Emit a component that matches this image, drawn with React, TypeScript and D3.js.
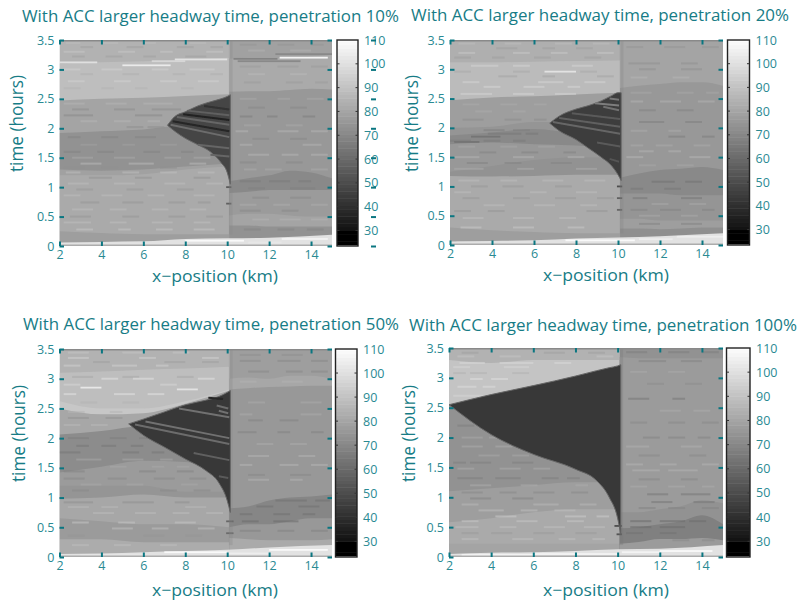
import React, { useEffect, useRef } from 'react';
import * as d3 from 'd3';

// station positions (km) the band edges are read at, left and right of the x=10 bottleneck
const leftStations = [2, 4, 6, 8, 10.1];
const rightStations = [10.1, 11, 12, 13, 14, 15];
const bottomStations = [2, 4, 6, 8, 10, 12, 15];
const xTicks = [2, 4, 6, 8, 10, 12, 14];
const yTicks = [0, 0.5, 1, 1.5, 2, 2.5, 3, 3.5];
const barTicks = [30, 40, 50, 60, 70, 80, 90, 100, 110];
const titles = ['With ACC larger headway time, penetration 10%', 'With ACC larger headway time, penetration 20%', 'With ACC larger headway time, penetration 50%', 'With ACC larger headway time, penetration 100%'];

// bands: [speed, top edge in hours at every station], painted from the top down
const left10 = [[84, [3.5, 3.5, 3.5, 3.5, 3.5]], [88, [3.1, 3.12, 3.14, 3.17, 3.2]], [79, [2.47, 2.5, 2.52, 2.55, 2.58]], [73, [1.92, 1.95, 1.98, 2.05, 2.05]], [78, [1.3, 1.28, 1.3, 1.35, 1.4]], [81, [1.2, 1.2, 1.22, 1.3, 1.35]], [77, [0.25, 0.22, 0.2, 0.2, 0.2]]];
const right10 = [[78, [3.5, 3.5, 3.5, 3.5, 3.5, 3.5]], [81, [3.18, 3.2, 3.2, 3.2, 3.22, 3.25]], [75, [2.62, 2.63, 2.63, 2.65, 2.67, 2.66]], [70, [1.1, 1.15, 1.2, 1.28, 1.25, 1.15]], [76, [0.9, 0.92, 0.95, 0.95, 0.95, 0.95]], [79, [0.52, 0.55, 0.55, 0.52, 0.5, 0.5]], [73, [0.35, 0.35, 0.33, 0.33, 0.33, 0.33]]];
const left20 = [[83, [3.5, 3.5, 3.5, 3.5, 3.5]], [87, [3.12, 3.12, 3.13, 3.14, 3.15]], [77, [2.47, 2.52, 2.54, 2.57, 2.6]], [74, [2.0, 2.02, 2.1, 2.1, 2.1]], [70, [1.87, 1.92, 1.98, 1.9, 1.8]], [75, [1.72, 1.75, 1.72, 1.7, 1.65]], [73, [1.25, 1.35, 1.45, 1.5, 1.5]], [81, [1.18, 1.17, 1.18, 1.2, 1.2]], [77, [0.3, 0.25, 0.22, 0.2, 0.2]]];
const right20 = [[79, [3.5, 3.5, 3.5, 3.5, 3.5, 3.5]], [75, [2.68, 2.72, 2.75, 2.78, 2.78, 2.72]], [70, [1.15, 1.22, 1.28, 1.3, 1.33, 1.28]], [74, [0.88, 0.88, 0.88, 0.85, 0.85, 0.85]], [77, [0.45, 0.45, 0.42, 0.42, 0.42, 0.42]], [72, [0.28, 0.28, 0.27, 0.28, 0.3, 0.3]]];
const left50 = [[84, [3.5, 3.5, 3.5, 3.5, 3.5]], [88, [3.1, 3.12, 3.15, 3.17, 3.2]], [91, [2.62, 2.5, 2.5, 2.62, 2.82]], [80, [2.5, 2.4, 2.42, 2.58, 2.8]], [71, [2.06, 2.12, 2.2, 2.2, 2.2]], [76, [1.42, 1.52, 1.62, 1.6, 1.5]], [74, [1.2, 1.2, 1.2, 1.1, 1.1]], [80, [0.98, 1.0, 1.05, 1.0, 1.0]], [76, [0.65, 0.6, 0.55, 0.55, 0.5]], [82, [0.3, 0.3, 0.25, 0.25, 0.25]]];
const right50 = [[77, [3.5, 3.5, 3.5, 3.5, 3.5, 3.5]], [80, [3.0, 3.02, 3.0, 3.05, 3.05, 3.0]], [75, [2.82, 2.84, 2.86, 2.87, 2.88, 2.88]], [69, [0.82, 0.85, 0.95, 1.0, 1.02, 1.05]], [75, [0.5, 0.55, 0.55, 0.6, 0.65, 0.65]], [81, [0.32, 0.3, 0.28, 0.28, 0.28, 0.3]]];
const left100 = [[84, [3.5, 3.5, 3.5, 3.5, 3.5]], [90, [3.3, 3.25, 3.3, 3.3, 3.3]], [73, [2.55, 2.55, 2.6, 2.6, 2.6]], [77, [1.1, 1.15, 1.2, 1.25, 1.25]], [81, [0.58, 0.65, 0.75, 0.8, 0.8]], [79, [0.22, 0.22, 0.22, 0.22, 0.22]]];
const right100 = [[73, [3.5, 3.5, 3.5, 3.5, 3.5, 3.5]], [76, [3.35, 3.33, 3.33, 3.33, 3.33, 3.33]], [73, [0.75, 0.75, 0.8, 0.85, 0.95, 0.9]], [67, [0.48, 0.5, 0.55, 0.6, 0.7, 0.55]], [76, [0.22, 0.25, 0.3, 0.3, 0.32, 0.28]]];

// white strip along t=0
const bottom10 = [0.06, 0.07, 0.08, 0.12, 0.13, 0.14, 0.19];
const bottom20 = [0.06, 0.07, 0.08, 0.11, 0.13, 0.15, 0.2];
const bottom50 = [0.05, 0.06, 0.08, 0.1, 0.12, 0.16, 0.2];
const bottom100 = [0.05, 0.07, 0.08, 0.1, 0.13, 0.14, 0.2];

// congestion wedge: x stations, upper edge, lower edge in hours
const wedgeX10 = [7.15, 7.5, 8, 8.6, 9.2, 9.7, 10, 10.15];
const wedgeTop10 = [2.05, 2.2, 2.28, 2.38, 2.45, 2.5, 2.54, 2.57];
const wedgeLow10 = [2.05, 1.95, 1.83, 1.72, 1.6, 1.42, 1.25, 1.05];
const wedgeX20 = [6.75, 7.2, 8, 8.6, 9.2, 9.7, 10, 10.15];
const wedgeTop20 = [2.08, 2.2, 2.32, 2.38, 2.46, 2.55, 2.6, 2.6];
const wedgeLow20 = [2.08, 1.95, 1.8, 1.65, 1.5, 1.35, 1.2, 1.1];
const wedgeX50 = [5.3, 6, 7, 8, 9, 9.6, 10, 10.15];
const wedgeTop50 = [2.24, 2.32, 2.44, 2.56, 2.64, 2.7, 2.77, 2.8];
const wedgeLow50 = [2.24, 2.05, 1.85, 1.65, 1.45, 1.25, 0.95, 0.75];
const wedgeX100 = [2, 4, 6, 8, 9, 9.6, 10, 10.15];
const wedgeTop100 = [2.55, 2.72, 2.87, 3.03, 3.12, 3.17, 3.2, 3.22];
const wedgeLow100 = [2.55, 2.05, 1.72, 1.47, 1.28, 1.0, 0.65, 0.38];
const wedgeSpeed = [47, 44, 42, 43];

// stripes inside the wedges: [x0, t0, x1, t1, speed]
const stripes10 = [[7.3, 2.06, 10.1, 1.85, 60], [7.6, 2.19, 10.1, 2.06, 58], [8.1, 2.3, 10.1, 2.22, 56], [7.4, 2.12, 10.1, 1.95, 36], [7.9, 2.24, 10.1, 2.14, 35], [8.6, 1.72, 10.1, 1.66, 58], [8.9, 2.38, 10.1, 2.32, 40], [9.2, 1.55, 10.1, 1.52, 58]];
const stripes20 = [[6.9, 2.1, 10.1, 1.9, 58], [7.2, 2.17, 10.1, 2.02, 56], [7.8, 2.25, 10.1, 2.15, 54], [9, 1.75, 10.1, 1.68, 54], [8.9, 2.42, 10.05, 2.38, 66], [9.3, 2.36, 10.05, 2.3, 62], [9.6, 1.47, 10.05, 1.42, 52], [9.6, 2.5, 10.05, 2.48, 64]];
const stripes50 = [[5.6, 2.23, 10.1, 1.9, 60], [6.1, 2.28, 10.1, 2.0, 62], [7.7, 2.5, 10.1, 2.35, 62], [8.4, 1.75, 10.1, 1.63, 56], [9.5, 2.55, 10.05, 2.5, 60], [9.6, 2.46, 10.05, 2.42, 62], [9.6, 1.36, 10.05, 1.33, 54], [9.1, 2.68, 9.8, 2.66, 36]];
const stripes100 = [];

// stronger marks: [x0, x1, t, speed]
const streaks10 = [[2, 3.8, 3.12, 99], [5, 7.3, 3.07, 103], [6.4, 8, 3.14, 96], [7.5, 10, 3.17, 100], [10.3, 12.4, 3.18, 68], [12.5, 14.8, 3.2, 106], [10.5, 13.5, 3.14, 70], [12.3, 15, 3.26, 70], [9.95, 10.2, 1.0, 54], [9.95, 10.2, 0.72, 56], [8, 10.8, 0.09, 108], [11, 12.6, 0.06, 102], [12.6, 14.8, 0.12, 106]];
const streaks20 = [[6.5, 8, 2.96, 100], [9.95, 10.2, 1.0, 50], [9.95, 10.2, 0.8, 56], [9.95, 10.2, 0.6, 58], [7.5, 10.8, 0.08, 108], [11, 12.6, 0.1, 104], [12.8, 15, 0.14, 104], [2.3, 4.8, 0.04, 100], [3, 4.4, 1.85, 63], [2.2, 3.4, 1.76, 63]];
const streaks50 = [[7.6, 8.6, 2.82, 100], [3, 4, 2.85, 102], [9.95, 10.3, 0.6, 58], [9.95, 10.3, 0.4, 60], [7, 10, 0.08, 108], [10, 12, 0.06, 104], [12, 14.8, 0.12, 108], [3, 6, 0.03, 102]];
const streaks100 = [[9.85, 10.2, 0.52, 50], [9.95, 10.2, 0.38, 52], [2.6, 6, 0.03, 108], [6, 10, 0.05, 106], [10.2, 12, 0.08, 106], [12, 14.5, 0.1, 108]];

// mottling rows: [t, speed, [x0, x1, x0, x1, ...]]
const mottle10 = [
  [3.45, 88, [2.3, 3, 4, 4.8, 6, 6.6, 8.2, 9]], [3.38, 78, [3, 3.6, 5.2, 6, 7.6, 8.4, 9.2, 9.8]], [3.3, 91, [2.2, 3.2, 4.8, 5.6, 6.8, 7.4, 9, 9.8]], [3.22, 78, [2.6, 3.2, 4.2, 5, 6, 6.6, 8, 9]],
  [3.0, 94, [2.2, 3, 4, 5, 6.4, 7.2, 8.2, 9.4]], [2.92, 83, [3, 3.6, 5, 5.8, 7.4, 8, 9.2, 9.8]], [2.8, 94, [2.4, 3.2, 4.6, 5.4, 6.8, 7.6, 8.6, 9.6]], [2.68, 84, [2.2, 3, 4, 4.6, 5.6, 6.2, 7.8, 8.4]],
  [2.42, 85, [2.2, 3.2, 4.2, 5.2, 6, 7.4]], [2.32, 71, [2.6, 3.4, 4.6, 5.6, 6.4, 7.8]], [2.22, 70, [2.2, 3.6, 5.6, 6.9]], [2.12, 85, [3, 3.8, 4.6, 5.4, 6.2, 6.8]], [2.02, 72, [5.2, 6, 6.2, 7]],
  [1.85, 68, [2.4, 3, 4, 4.8, 5.6, 6.6]], [1.72, 78, [3, 3.8, 5, 5.6, 6.8, 7.6]], [1.6, 68, [2.2, 3, 3.8, 4.6, 6, 6.8, 7.8, 8.4]], [1.5, 80, [2.6, 3.6, 4.6, 5.6, 7, 7.8, 8.4, 9.2]], [1.4, 86, [3, 4, 5.3, 6.5, 8.2, 9]],
  [1.33, 72, [2.2, 3.2, 4, 4.8, 6.8, 7.6]], [1.25, 88, [2.3, 3, 5, 5.8, 6.8, 7.6, 8.6, 9.4]], [1.16, 73, [3.4, 4.5, 5.6, 6.4, 8.4, 9.2]], [1.06, 87, [2.4, 3.4, 4.6, 5.6, 7, 8, 9, 9.8]], [0.96, 75, [2.8, 3.6, 5.2, 6, 7.6, 8.4]],
  [0.86, 87, [2.2, 3, 4, 5, 6.2, 7, 8.4, 9.4]], [0.74, 74, [3, 3.9, 5, 6, 7.2, 8, 8.6, 9.2]], [0.62, 87, [2.6, 3.6, 4.4, 5.2, 6.4, 7.2, 8.2, 9]], [0.5, 74, [2.5, 3.5, 5, 5.8, 7.2, 8, 9, 9.8]], [0.4, 88, [2.2, 3.5, 4.4, 5.2, 6.4, 7.4, 8.4, 9.2]], [0.28, 90, [2.8, 3.6, 4.8, 5.4, 6.6, 7.4, 8.4, 9.4]],
  [3.42, 74, [10.6, 11.4, 12.4, 13.2, 14, 14.6]], [3.32, 84, [11, 11.8, 13, 14]], [3.05, 76, [10.6, 11.6, 12.4, 13.4, 14, 14.8]], [2.92, 86, [11, 11.8, 13, 13.8]], [2.78, 76, [10.8, 11.6, 12.8, 13.6, 14.2, 14.8]],
  [2.5, 81, [10.6, 11.4, 12.4, 13, 13.8, 14.6]], [2.35, 70, [11, 11.8, 13, 13.8]], [2.2, 66, [11.9, 12.4, 10.6, 11.2, 13.6, 14.2]], [2.05, 81, [10.8, 11.6, 12.8, 13.6]], [1.95, 85, [12.4, 13.4, 10.4, 11, 14, 14.8]], [1.82, 70, [11.2, 12, 13, 13.8]],
  [1.72, 84, [10.6, 11.2, 13.6, 14.5]], [1.55, 85, [11, 12, 12.6, 13.4, 14, 14.8]], [1.42, 70, [10.6, 11.4, 12.8, 13.6]], [1.3, 82, [10.8, 11.4, 11.8, 12.6, 14, 14.8]], [1.1, 65, [10.6, 11.6, 12, 13, 13.4, 14]], [0.98, 67, [11, 11.8, 13, 14.2]],
  [0.82, 70, [11.2, 12, 13, 14]], [0.7, 82, [10.6, 11.4, 12.2, 13, 14, 14.8]], [0.6, 70, [10.6, 11.6, 12.6, 13.4]], [0.45, 84, [11.2, 12, 12.5, 13.5, 14, 14.8]], [0.28, 68, [10.8, 11.6, 12.4, 13.2, 13.8, 14.6]],
];
const mottle20 = [
  [3.44, 88, [2.4, 3.2, 4.6, 5.4, 7, 7.8, 8.8, 9.6]], [3.36, 77, [4.2, 5.2, 6.4, 7, 8, 8.8]], [3.28, 91, [2.4, 3.2, 5, 5.8, 6.8, 7.6, 9, 9.8]], [3.2, 77, [2.2, 3, 4, 4.6, 6, 6.8, 8.4, 9.2]],
  [3.06, 95, [3, 4.3, 5, 5.8, 7.8, 8.8]], [2.96, 81, [2.2, 3, 5, 5.8, 8.2, 9]], [2.88, 79, [4.3, 5.2, 6.4, 7, 9, 9.8]], [2.78, 95, [2.6, 3.4, 6.2, 7.4, 8.4, 9.4]], [2.7, 96, [3.6, 4.4, 5.5, 6.5, 7.6, 8.2]], [2.58, 95, [2.5, 4, 5, 6, 7, 8]],
  [2.4, 82, [2.6, 3.4, 4.4, 5.2, 6, 6.6]], [2.28, 82, [3.2, 4, 5, 5.6]], [2.14, 71, [2.6, 3.6, 4.6, 5.4, 6, 6.6]], [1.96, 66, [3.6, 4.6, 5, 5.8]], [1.9, 64, [3.8, 5.4, 5.6, 6.2]], [1.78, 65, [2, 3, 3.6, 4.4, 5, 5.6]],
  [1.68, 80, [2.4, 3.2, 4.4, 5.2, 6.2, 7]], [1.58, 68, [3.4, 4.2, 5.4, 6.2, 7.4, 8]], [1.5, 84, [2.2, 3.4, 5, 6, 7.6, 8.4]], [1.4, 68, [2.8, 3.8, 4.6, 5.4, 6.8, 7.8]], [1.3, 82, [2.2, 3.6, 5.2, 6, 8, 9]],
  [1.1, 87, [2.4, 3.4, 4.4, 5.2, 6.4, 7.4, 8.4, 9.4]], [1.0, 75, [3, 3.8, 4.5, 5.5, 7, 7.8]], [0.9, 87, [2.2, 3, 5.8, 6.6, 8, 9]], [0.8, 75, [2.6, 3.4, 5, 5.8, 7, 8, 9, 9.8]], [0.68, 87, [3.6, 4.6, 6, 7, 8.2, 9]], [0.58, 74, [2.2, 3, 3.8, 4.6, 8.5, 9.5]], [0.46, 88, [2.6, 3.6, 5, 6, 7.2, 8]], [0.3, 91, [2.5, 3.5, 5, 6, 7.6, 8.4]],
  [3.38, 74, [10.4, 11.2, 12.2, 13.2, 14, 14.8]], [3.1, 72, [10.5, 12, 13, 13.8]], [3, 72, [11, 11.8, 13, 14]], [2.86, 85, [10.6, 11.4, 12.6, 13.4]], [2.6, 80, [10.6, 11.6, 12.8, 13.6, 14.2, 14.8]],
  [2.45, 84, [12, 13, 10.6, 11.2, 13.8, 14.6]], [2.3, 68, [11, 11.8, 12.8, 13.6]], [2.1, 67, [11, 12.2, 13.2, 14]], [1.95, 82, [10.6, 11.4, 12.4, 13]], [1.85, 66, [12.4, 13.2, 14, 14.6]], [1.7, 82, [10.6, 11.2, 11.8, 12.6, 13.6, 14.4]],
  [1.6, 84, [11, 11.7, 12.4, 13]], [1.5, 85, [13.4, 14.4, 10.4, 11.2]], [1.36, 80, [11, 11.8, 12.8, 13.6]], [1.08, 62, [11.6, 12.7, 13.2, 14]], [0.96, 64, [10.6, 11.2, 12.2, 13]], [0.8, 64, [10.7, 11.4, 13, 14]],
  [0.7, 80, [11.6, 12.4, 13.4, 14.2]], [0.6, 68, [10.6, 11.4, 12, 13, 14, 14.6]], [0.5, 81, [11, 12, 13, 13.8]], [0.36, 68, [11, 12, 13, 14]],
];
const mottle50 = [
  [3.44, 90, [2.4, 3.4, 5, 6, 7.4, 8.2]], [3.35, 94, [2.4, 3.4, 5.8, 6.6, 8.8, 9.6]], [3.28, 78, [3.6, 4.4, 7, 8, 8.8, 9.6]], [3.22, 94, [2.2, 3, 4.5, 5.7, 6.6, 7.2]], [3.03, 80, [2.6, 3.6, 5, 5.8, 7.6, 8.4]],
  [3, 100, [4, 4.8, 5.5, 6.5, 8.6, 9.4]], [2.9, 96, [2.2, 3, 6.8, 7.6]], [2.74, 100, [4.6, 5.6, 2.2, 2.8, 6.2, 7]], [2.6, 84, [3, 3.8, 5, 5.8]], [2.44, 85, [2.4, 3.2, 4.4, 5]], [2.34, 73, [2.4, 3.4, 4.2, 5]], [2.22, 86, [3.5, 4.3, 2.2, 3]],
  [2, 66, [2.4, 3.4, 4.4, 5.2, 5.8, 6.2]], [1.87, 64, [4, 4.7, 5.4, 6, 2.8, 3.4]], [1.76, 64, [2, 3, 5, 5.8, 6.4, 7]], [1.64, 80, [2.8, 4, 5, 6, 6.8, 7.4]], [1.52, 80, [4.4, 5.2, 6.4, 7, 7.6, 8.2]],
  [1.44, 68, [2.2, 3.2, 5.8, 6.6, 7.6, 8.4]], [1.32, 70, [2.2, 3.2, 4.3, 5.2, 6.5, 7.5, 8.2, 9]], [1.22, 80, [3, 4, 5.2, 6, 7.8, 8.6]], [1.12, 70, [2.6, 3.4, 6.8, 7.6, 8.4, 9.2]], [0.92, 72, [2.2, 3.6, 5, 6.5, 7.5, 8.2]],
  [0.84, 86, [2.4, 3.4, 4, 4.8, 8, 9]], [0.74, 87, [3.6, 4.6, 5.6, 6.6, 7.4, 8.2, 9, 9.8]], [0.58, 90, [2.6, 3.4, 7.5, 8.5, 4.8, 5.6]], [0.48, 88, [4.5, 5.5, 6.4, 7.2, 8.6, 9.4]], [0.36, 74, [6, 7, 2.4, 3.2, 8, 8.8]], [0.2, 88, [2.6, 3.4, 4.6, 5.4, 6.8, 7.6]],
  [3.4, 72, [10.6, 11.6, 12.6, 13.6]], [3.3, 70, [10.6, 11.6, 12.4, 13.5, 14, 14.8]], [3.12, 70, [14, 14.8, 11, 12, 12.8, 13.6]], [2.95, 84, [10.6, 11.4, 12.6, 13.6]],
  [2.6, 82, [11, 11.8, 13.5, 14.5]], [2.4, 82, [13.5, 14.5, 10.6, 11.2]], [2.3, 68, [12.5, 13.4, 11, 11.7]], [2.1, 68, [10.5, 11.4, 12.4, 13, 14, 14.6]], [1.9, 82, [11.4, 12.2, 13, 13.8]], [1.7, 84, [11, 12, 13.4, 14.2]], [1.55, 85, [12.5, 13.4, 10.6, 11.2, 14, 14.8]],
  [1.38, 70, [11, 11.8, 13, 14]], [1.3, 84, [11, 12, 13, 13.6]], [0.95, 62, [12.3, 13.8, 14.2, 14.9]], [0.85, 62, [13.4, 14.4, 11.4, 12.2]], [0.72, 62, [10.6, 11.2, 12.2, 13, 13.6, 14.2]], [0.6, 60, [10.7, 11.5, 12.2, 13.4]], [0.44, 68, [10.6, 11.6, 12.4, 13.2, 14, 14.8]],
];
const mottle100 = [
  [3.42, 78, [6.5, 7.5, 2.6, 3.4, 8.6, 9.4]], [3.36, 90, [2.4, 3.2, 4.4, 5.4, 9, 9.8]], [3.25, 97, [2.5, 3.7, 4.4, 6, 7, 7.8]], [3.18, 96, [2.2, 3, 4.6, 5.8]], [3.08, 84, [3, 3.8, 5, 5.8, 2.2, 2.8]], [2.98, 99, [4, 4.8, 3, 3.6]], [2.85, 98, [2.4, 3.3, 3.6, 4.2]], [2.7, 96, [2.2, 3.6]],
  [2.2, 66, [2.4, 3.2]], [2.0, 80, [2.6, 3.6, 3.9, 4.3]], [1.85, 82, [2.6, 3.6, 4.2, 5]], [1.7, 80, [3.4, 4.4, 5, 5.8]], [1.58, 66, [3, 4, 2.2, 2.8, 5, 6]], [1.48, 82, [4.4, 5.4, 2.4, 3.2, 6, 6.8]], [1.32, 66, [2.4, 3.6, 4.2, 5.4, 6.4, 7.2, 7.6, 8.2]],
  [1.2, 82, [3, 4, 5.4, 6.2, 8, 8.6]], [1.08, 70, [2.6, 3.6, 4.4, 5.2, 6, 7, 7.8, 8.6]], [0.98, 68, [5, 6, 3, 4]], [0.88, 86, [6, 7.2, 2.6, 3.4, 8.2, 9]], [0.78, 88, [3.4, 4.6, 5.4, 6.2, 7, 8]], [0.68, 92, [7.5, 8.5, 4.2, 5.2, 9, 9.6]], [0.6, 90, [5.2, 6.2, 2.6, 3.4, 7.6, 8.4]],
  [0.5, 88, [2.3, 3.4, 4.4, 5.2, 6.5, 7.5, 8.4, 9.4]], [0.4, 76, [4, 5, 2.6, 3.4, 6, 7, 8, 9]], [0.3, 88, [2.6, 3.4, 5, 6, 7.2, 8, 8.8, 9.4]],
  [3.43, 66, [10.4, 11.4, 12.4, 13.4, 14, 14.8]], [3.28, 68, [11, 12.3, 13, 14]], [3.1, 81, [10.6, 11.4, 12.4, 13.2]], [2.9, 71, [11.4, 12.2, 13.2, 14]], [2.65, 64, [10.5, 11.5, 12.6, 13.2]], [2.45, 82, [12, 13, 13.6, 14.4]], [2.25, 70, [10.6, 11.4, 12.4, 13.2, 14, 14.8]],
  [2.0, 68, [11.2, 12, 12.4, 13.2, 13.8, 14.4]], [1.85, 83, [10.4, 11.5, 13, 14]], [1.7, 70, [11, 12, 13.4, 14.2]], [1.55, 84, [10.4, 11.2, 12, 12.8, 14, 14.8]], [1.45, 84, [10.7, 12, 12.4, 13.8]], [1.3, 69, [11, 12, 13, 13.8]], [1.18, 82, [10.6, 11.4, 12.4, 13.2, 14, 14.6]],
  [1.05, 64, [11.4, 12.4, 13, 14.4]], [0.92, 64, [13.6, 14.6, 11.6, 12.6]], [0.82, 68, [11, 11.8, 12.4, 13.2, 14, 14.8]], [0.6, 60, [10.6, 11.6, 12, 13.2, 13.4, 14.2]], [0.5, 60, [12, 13.2, 10.6, 11.6]], [0.4, 62, [10.4, 11.2, 12, 12.8]], [0.28, 70, [12.6, 13.4, 14, 14.6]],
];

const panels = [
  { title: titles[0], left: left10, right: right10, bottom: bottom10, wx: wedgeX10, wt: wedgeTop10, wl: wedgeLow10, ws: wedgeSpeed[0], stripes: stripes10, streaks: streaks10, mottle: mottle10, seam: 70,
    box: [59.5, 40, 332, 246], bar: [337, 358], titlePos: [22, 22, 377], tickExtra: true, xl: [152, 282], yl: [23, 172] },
  { title: titles[1], left: left20, right: right20, bottom: bottom20, wx: wedgeX20, wt: wedgeTop20, wl: wedgeLow20, ws: wedgeSpeed[1], stripes: stripes20, streaks: streaks20, mottle: mottle20, seam: 68,
    box: [450, 40, 723, 245], bar: [727.5, 749.5], titlePos: [411, 21, 378], tickExtra: false, xl: [543, 281], yl: [418, 172] },
  { title: titles[2], left: left50, right: right50, bottom: bottom50, wx: wedgeX50, wt: wedgeTop50, wl: wedgeLow50, ws: wedgeSpeed[2], stripes: stripes50, streaks: streaks50, mottle: mottle50, seam: 70,
    box: [59.5, 349, 332, 557], bar: [335.5, 357], titlePos: [23, 330, 376], tickExtra: false, xl: [152, 596], yl: [25, 482] },
  { title: titles[3], left: left100, right: right100, bottom: bottom100, wx: wedgeX100, wt: wedgeTop100, wl: wedgeLow100, ws: wedgeSpeed[3], stripes: stripes100, streaks: streaks100, mottle: mottle100, seam: 64,
    box: [449, 348, 723, 557], bar: [726.5, 750], titlePos: [409, 331, 388], tickExtra: false, xl: [543, 596], yl: [415, 482] },
];

const TEAL = '#177c86';
const TICK = '#0a7681';
const FONT = '"Open Sans", sans-serif';

function gray (speed) {
  const v = speed < 29 ? 0 : Math.round((speed - 23.5) / (110 - 23.5) * 255);
  return d3.rgb(v, v, v).formatHex();
}

function drawPanel (root, p, idx) {
  const [x0, y0, x1, y1] = p.box;
  const x = d3.scaleLinear().domain([2, 15]).range([x0, x1]);
  const y = d3.scaleLinear().domain([0, 3.5]).range([y1, y0]);

  const clipId = 'clip' + idx;
  root.append('clipPath').attr('id', clipId).append('rect')
    .attr('x', x0).attr('y', y0).attr('width', x1 - x0).attr('height', y1 - y0);
  const plot = root.append('g').attr('clip-path', `url(#${clipId})`).append('g').attr('filter', 'url(#soft)');

  const paintBands = (bands, stations) => {
    bands.forEach(([speed, edge]) => {
      const area = d3.area().x((d, i) => x(stations[i])).y0(y1).y1(d => y(d)).curve(d3.curveMonotoneX);
      plot.append('path').attr('d', area(edge)).attr('fill', gray(speed));
    });
  };
  paintBands(p.left, leftStations);
  paintBands(p.right, rightStations);

  // flatten the mottling rows, then draw them under the stronger marks
  const flat = [];
  p.mottle.forEach(([t, speed, xs]) => {
    for (let i = 0; i < xs.length; i += 2) flat.push([xs[i], xs[i + 1], t, speed]);
  });
  plot.selectAll('rect.mottle').data(flat).enter().append('rect').attr('class', 'mottle')
    .attr('x', d => x(d[0])).attr('width', d => x(d[1]) - x(d[0]))
    .attr('y', d => y(d[2]) - 1).attr('height', 2)
    .attr('fill', d => gray(d[3])).attr('opacity', 0.55);

  // pale strip along the bottom
  const strip = d3.area().x((d, i) => x(bottomStations[i])).y0(y1).y1(d => y(d)).curve(d3.curveMonotoneX);
  plot.append('path').attr('d', strip(p.bottom)).attr('fill', gray(100));

  plot.selectAll('rect.streak').data(p.streaks).enter().append('rect').attr('class', 'streak')
    .attr('x', d => x(d[0])).attr('width', d => x(d[1]) - x(d[0]))
    .attr('y', d => y(d[2]) - 0.9).attr('height', 1.8)
    .attr('fill', d => gray(d[3]));

  // seam on the bottleneck
  plot.append('rect').attr('x', x(10.08)).attr('width', x(10.26) - x(10.08))
    .attr('y', y0).attr('height', y(0.2) - y0).attr('fill', gray(p.seam)).attr('opacity', 0.3);

  const wedge = d3.area().x((d, i) => x(p.wx[i])).y0((d, i) => y(p.wl[i])).y1((d, i) => y(p.wt[i])).curve(d3.curveMonotoneX);
  plot.append('path').attr('d', wedge(p.wt)).attr('fill', gray(p.ws))
    .attr('stroke', gray(58)).attr('stroke-width', 1);

  plot.selectAll('line.stripe').data(p.stripes).enter().append('line').attr('class', 'stripe')
    .attr('x1', d => x(d[0])).attr('y1', d => y(d[1]))
    .attr('x2', d => x(d[2])).attr('y2', d => y(d[3]))
    .attr('stroke', d => gray(d[4])).attr('stroke-width', 2);

  // pale grey edge along t=0 and t=3.5
  plot.append('rect').attr('x', x0).attr('width', x1 - x0).attr('y', y0).attr('height', 1.5).attr('fill', gray(70));
  plot.append('rect').attr('x', x0).attr('width', x1 - x0).attr('y', y1 - 1.5).attr('height', 1.5).attr('fill', gray(82));

  // axes: ticks on all four sides, labels only left and bottom
  const style = sel => {
    sel.select('.domain').remove();
    sel.selectAll('line').attr('stroke', TICK).attr('stroke-width', 2);
    sel.selectAll('text').attr('fill', '#2a8a93').attr('font-family', FONT).attr('font-size', 12.5);
  };
  root.append('g').attr('transform', `translate(0,${y1})`)
    .call(d3.axisBottom(x).tickValues(xTicks).tickSize(-4.5).tickPadding(4).tickFormat(d3.format('d'))).call(style);
  root.append('g').attr('transform', `translate(0,${y0})`)
    .call(d3.axisTop(x).tickValues(xTicks).tickSize(-4.5).tickFormat(() => '')).call(style);
  root.append('g').attr('transform', `translate(${x0},0)`)
    .call(d3.axisLeft(y).tickValues(yTicks).tickSize(-4.5).tickPadding(5).tickFormat(d => String(d))).call(style);
  root.append('g').attr('transform', `translate(${x1},0)`)
    .call(d3.axisRight(y).tickValues(yTicks).tickSize(-4.5).tickFormat(() => '')).call(style);

  // colour bar
  const [b0, b1] = p.bar;
  const c = d3.scaleLinear().domain([23.5, 110]).range([y1, y0]);
  const steps = d3.range(24, 110, 1.5);
  root.append('g').selectAll('rect').data(steps).enter().append('rect')
    .attr('x', b0).attr('width', b1 - b0)
    .attr('y', d => c(d + 1.5)).attr('height', d => c(d) - c(d + 1.5) + 0.5)
    .attr('fill', d => gray(d));
  root.append('rect').attr('x', b0).attr('y', y0).attr('width', b1 - b0).attr('height', y1 - y0)
    .attr('fill', 'none').attr('stroke', '#222').attr('stroke-width', 1.4);
  const barAxis = root.append('g').attr('transform', `translate(${b1},0)`)
    .call(d3.axisRight(c).tickValues(barTicks).tickSize(0).tickPadding(6).tickFormat(d3.format('d')));
  barAxis.select('.domain').remove();
  barAxis.selectAll('text').attr('fill', '#2a8a93').attr('font-family', FONT).attr('font-size', 12.5);
  root.append('g').selectAll('path').data(barTicks.slice(0, -1)).enter().append('path')
    .attr('d', d => `M${b0},${c(d)}h2.5M${b1},${c(d)}h-2.5`)
    .attr('stroke', '#333').attr('stroke-width', 1);

  // the 10% plot has a stray set of y ticks over the bar labels
  if (p.tickExtra) {
    root.append('g').attr('transform', 'translate(376,0)')
      .call(d3.axisLeft(y).tickValues(yTicks).tickSize(5).tickFormat(() => '')).call(style);
  }

  const label = (txt, tx, ty, len, size, rotate) => {
    const t = root.append('text').text(txt).attr('fill', TEAL).attr('font-family', FONT)
      .attr('font-size', size).attr('textLength', len).attr('lengthAdjust', 'spacingAndGlyphs');
    if (rotate) t.attr('transform', `translate(${tx},${ty}) rotate(-90)`);
    else t.attr('x', tx).attr('y', ty);
  };
  label(p.title, p.titlePos[0], p.titlePos[1], p.titlePos[2], 16.5, false);
  label('x\u2212position (km)', p.xl[0], p.xl[1], 126, 17, false);
  label('time (hours)', p.yl[0], p.yl[1], 97, 17.5, true);
}

export default function App () {
  const ref = useRef(null);

  useEffect(() => {
    const svg = d3.select(ref.current);
    svg.selectAll('*').remove();
    svg.append('defs').append('filter').attr('id', 'soft')
      .attr('x', '-2%').attr('y', '-2%').attr('width', '104%').attr('height', '104%')
      .append('feGaussianBlur').attr('stdDeviation', 0.65);
    panels.forEach((p, i) => drawPanel(svg, p, i));
  }, []);

  return (
    <svg ref={ref} width={798} height={601} style={{ position: 'absolute', left: 0, top: 0, background: '#fff' }} />
  );
}
